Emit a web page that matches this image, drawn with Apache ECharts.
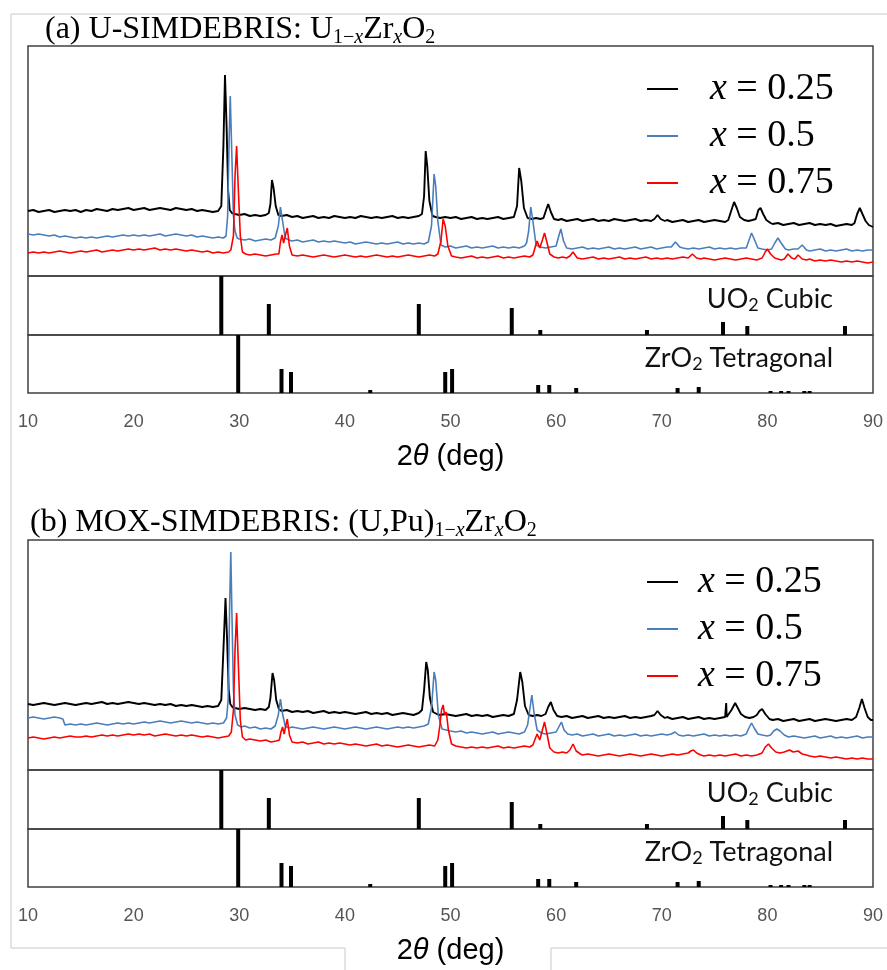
<!DOCTYPE html>
<html><head><meta charset="utf-8">
<script src="https://cdn.jsdelivr.net/npm/echarts@6/dist/echarts.min.js"></script>
<style>html,body{margin:0;padding:0;background:#fff}#c{width:887px;height:970px}</style>
</head><body><div id="c"></div>
<script>
// ---- data (2θ in degrees, intensity in arbitrary units with vertical offsets) ----
const xMin = 10, xMax = 90, xStep = 10;
const seriesNames = ['x = 0.25', 'x = 0.5', 'x = 0.75'];
const seriesColors = ['#000000', '#4a7ebb', '#ff0000'];

const aBlack = [[10,65],[10.5,66],[11,64],[11.5,65],[12,66],[12.5,64],[13,65],[13.5,66],[14,65],[14.5,66],[15,64],[15.5,66],[16,65],[16.5,67],[17,66],[17.5,65],[18,67],[18.5,66],[19,67],[19.5,68],[20,66],[20.5,67],[21,68],[21.5,66],[22,67],[22.5,68],[23,67],[23.5,66],[24,68],[24.5,67],[25,66],[25.5,67],[26,65],[26.5,66],[27,65],[27.5,64],[28,65],[28.3,70],[28.5,130],[28.65,201],[28.8,150],[28.95,85],[29.1,66],[29.3,63],[29.6,62],[30,61],[30.5,62],[31,60],[31.5,61],[32,60],[32.5,61],[32.8,63],[32.95,72],[33.1,96],[33.25,88],[33.45,70],[33.7,61],[34,60],[34.5,61],[35,59],[35.5,60],[36,58],[36.5,59],[37,60],[37.5,58],[38,59],[38.5,58],[39,60],[39.5,59],[40,58],[40.5,59],[41,58],[41.5,60],[42,59],[42.5,58],[43,59],[43.5,58],[44,59],[44.5,60],[45,58],[45.5,59],[46,58],[46.5,59],[47,60],[47.3,62],[47.5,80],[47.65,125],[47.8,110],[48.0,75],[48.3,60],[48.6,59],[49,58],[49.5,59],[50,58],[50.5,59],[51,57],[51.5,58],[52,59],[52.5,57],[53,58],[53.5,57],[54,58],[54.5,59],[55,57],[55.5,58],[56,59],[56.3,70],[56.5,108],[56.7,95],[56.95,68],[57.3,58],[57.7,57],[58.1,58],[58.5,57],[58.8,58],[59.05,66],[59.25,72],[59.5,64],[59.8,57],[60.2,56],[60.5,57],[61,55],[61.5,56],[62,57],[62.5,55],[63,56],[63.5,57],[64,55],[64.5,56],[65,55],[65.5,57],[66,56],[66.5,55],[67,56],[67.5,57],[68,55],[68.5,56],[69,55],[69.3,57],[69.6,61],[69.9,57],[70.3,55],[70.5,56],[71,54],[71.5,55],[72,56],[72.5,54],[73,55],[73.5,56],[74,54],[74.5,55],[75,56],[75.5,55],[76,54],[76.3,56],[76.6,66],[76.85,74],[77.1,68],[77.4,59],[77.8,56],[78.2,55],[78.6,56],[78.9,57],[79.15,66],[79.35,68],[79.6,62],[79.9,56],[80.3,53],[80.5,52],[81,53],[81.5,51],[82,52],[82.5,53],[83,51],[83.5,52],[84,53],[84.5,51],[85,52],[85.5,51],[86,52],[86.5,50],[87,51],[87.5,52],[88,51],[88.25,53],[88.5,62],[88.75,68],[89,62],[89.3,55],[89.6,51],[90,49]];

const aBlue = [[10,42],[10.5,41],[11,42],[11.5,41],[12,40],[12.5,41],[13,39],[13.5,40],[14,39],[14.5,38],[15,39],[15.5,38],[16,39],[16.5,38],[17,39],[17.5,40],[18,39],[18.5,40],[19,41],[19.5,40],[20,41],[20.5,40],[21,41],[21.5,40],[22,41],[22.5,42],[23,40],[23.5,41],[24,42],[24.5,41],[25,40],[25.5,41],[26,39],[26.5,40],[27,39],[27.5,38],[28,39],[28.5,38],[28.75,40],[28.9,60],[29.05,140],[29.15,180],[29.3,120],[29.45,60],[29.6,45],[29.8,38],[30,37],[30.5,36],[31,37],[31.5,35],[32,36],[32.5,37],[33,36],[33.4,38],[33.7,50],[33.9,69],[34.1,55],[34.35,38],[34.7,36],[35,35],[35.5,36],[36,34],[36.5,35],[37,36],[37.5,34],[38,35],[38.5,34],[39,35],[39.5,34],[40,33],[40.5,34],[41,32],[41.5,33],[42,34],[42.5,33],[43,32],[43.5,33],[44,32],[44.5,33],[45,34],[45.5,32],[46,33],[46.5,32],[47,33],[47.5,32],[47.9,34],[48.2,50],[48.45,102],[48.6,90],[48.8,55],[49.1,31],[49.5,29],[50,30],[50.5,28],[51,29],[51.5,30],[52,28],[52.5,29],[53,28],[53.5,29],[54,30],[54.5,28],[55,29],[55.5,28],[56,29],[56.5,28],[57,30],[57.2,33],[57.4,45],[57.6,69],[57.8,55],[58.1,31],[58.5,29],[59,28],[59.5,29],[60,30],[60.25,40],[60.45,47],[60.7,35],[61,28],[61.5,27],[62,28],[62.5,29],[63,27],[63.5,28],[64,27],[64.5,28],[65,29],[65.5,27],[66,28],[66.5,27],[67,28],[67.5,29],[68,27],[68.5,28],[69,29],[69.5,27],[70,28],[70.5,29],[70.9,29],[71.3,34],[71.7,29],[72,28],[72.5,27],[73,28],[73.5,27],[74,28],[74.5,29],[75,27],[75.5,28],[76,27],[76.5,28],[77,27],[77.5,28],[78,28],[78.3,37],[78.5,43],[78.75,37],[79.1,28],[79.5,27],[80,26],[80.4,27],[80.7,33],[81,38],[81.3,33],[81.7,27],[82,26],[82.5,27],[82.9,27],[83.3,31],[83.7,26],[84,25],[84.5,26],[85,27],[85.5,25],[86,26],[86.5,25],[87,26],[87.5,27],[88,25],[88.5,26],[89,25],[89.5,26],[90,26]];

const aRed = [[10,23],[10.5,24],[11,23],[11.5,24],[12,23],[12.5,24],[13,25],[13.5,24],[14,23],[14.5,24],[15,25],[15.5,24],[16,25],[16.5,26],[17,24],[17.5,25],[18,26],[18.5,25],[19,26],[19.5,27],[20,26],[20.5,27],[21,26],[21.5,27],[22,28],[22.5,26],[23,27],[23.5,26],[24,27],[24.5,26],[25,25],[25.5,26],[26,25],[26.5,24],[27,25],[27.5,23],[28,24],[28.5,23],[29,24],[29.2,26],[29.45,40],[29.6,100],[29.75,130],[29.9,90],[30.1,40],[30.3,24],[30.6,22],[31,21],[31.5,22],[32,21],[32.5,20],[33,21],[33.5,22],[33.75,22],[33.9,34],[34.05,41],[34.2,33],[34.4,42],[34.55,48],[34.75,30],[35,21],[35.5,20],[36,21],[36.5,20],[37,19],[37.5,20],[38,21],[38.5,20],[39,19],[39.5,20],[40,21],[40.5,20],[41,19],[41.5,20],[42,19],[42.5,20],[43,21],[43.5,20],[44,19],[44.5,20],[45,19],[45.5,20],[46,21],[46.5,20],[47,19],[47.5,20],[48,21],[48.5,20],[48.8,22],[49.1,35],[49.3,57],[49.5,50],[49.75,30],[50.1,20],[50.5,19],[51,18],[51.5,19],[52,20],[52.5,18],[53,19],[53.5,18],[54,19],[54.5,20],[55,18],[55.5,19],[56,18],[56.5,19],[57,20],[57.5,19],[57.8,21],[58.05,30],[58.2,35],[58.45,28],[58.7,36],[58.9,43],[59.1,35],[59.4,22],[59.8,19],[60.2,18],[60.6,19],[61,18],[61.3,20],[61.6,24],[62,18],[62.5,17],[63,18],[63.5,19],[64,17],[64.5,18],[65,17],[65.5,18],[66,19],[66.5,17],[67,18],[67.5,17],[68,18],[68.5,19],[69,17],[69.5,18],[70,17],[70.5,18],[71,17],[71.5,18],[72,19],[72.5,18],[72.9,22],[73.3,18],[73.7,17],[74,18],[74.5,17],[75,16],[75.5,17],[76,18],[76.5,17],[77,16],[77.5,17],[78,18],[78.5,17],[79,16],[79.5,18],[79.8,24],[80,27],[80.3,22],[80.7,18],[81,17],[81.3,16],[81.6,17],[81.95,22],[82.3,18],[82.6,17],[82.9,21],[83.3,17],[83.7,16],[84,17],[84.5,15],[85,16],[85.5,15],[86,16],[86.5,15],[87,14],[87.5,15],[88,14],[88.5,15],[89,14],[89.5,13],[90,14]];

const bBlack = [[10,66],[10.5,65],[11,66],[11.5,67],[12,66],[12.5,65],[13,66],[13.5,67],[14,66],[14.5,65],[15,66],[15.5,67],[16,66],[16.5,67],[17,68],[17.5,66],[18,67],[18.5,66],[19,67],[19.5,68],[20,67],[20.5,66],[21,67],[21.5,66],[22,65],[22.5,66],[23,65],[23.5,66],[24,64],[24.5,65],[25,64],[25.5,65],[26,64],[26.5,63],[27,64],[27.5,63],[28,64],[28.3,70],[28.5,120],[28.7,172],[28.85,130],[29.0,80],[29.15,66],[29.35,63],[29.6,62],[30,61],[30.5,62],[31,61],[31.5,60],[32,61],[32.5,60],[32.8,63],[32.95,72],[33.15,97],[33.3,90],[33.5,70],[33.75,61],[34,59],[34.5,60],[35,58],[35.5,59],[36,58],[36.5,59],[37,57],[37.5,58],[38,59],[38.5,57],[39,58],[39.5,57],[40,58],[40.5,57],[41,56],[41.5,57],[42,58],[42.5,56],[43,57],[43.5,56],[44,57],[44.5,55],[45,56],[45.5,57],[46,56],[46.5,55],[47,57],[47.3,60],[47.5,80],[47.7,108],[47.85,100],[48.05,72],[48.35,58],[48.7,56],[49,55],[49.5,56],[50,55],[50.5,54],[51,55],[51.5,56],[52,54],[52.5,55],[53,54],[53.5,55],[54,53],[54.5,54],[55,55],[55.5,54],[56,56],[56.3,70],[56.6,98],[56.8,88],[57.05,64],[57.4,55],[57.8,54],[58.2,55],[58.6,54],[59,56],[59.25,63],[59.5,68],[59.75,60],[60.1,54],[60.5,53],[61,54],[61.5,52],[62,53],[62.5,54],[63,52],[63.5,53],[64,54],[64.5,52],[65,53],[65.5,52],[66,53],[66.5,54],[67,52],[67.5,53],[68,52],[68.5,53],[69,54],[69.3,55],[69.6,59],[69.9,55],[70.3,52],[70.5,53],[71,51],[71.5,52],[72,53],[72.5,51],[73,52],[73.5,53],[74,51],[74.5,52],[75,51],[75.5,52],[76.0,53],[76.05,53],[76.1,67],[76.15,53],[76.3,54],[76.6,60],[76.95,67],[77.2,62],[77.5,56],[77.9,53],[78.3,52],[78.7,53],[79,55],[79.25,59],[79.5,61],[79.8,56],[80.2,51],[80.5,50],[81,51],[81.5,49],[82,50],[82.5,51],[83,49],[83.5,50],[84,51],[84.5,49],[85,50],[85.5,51],[86,50],[86.5,49],[87,50],[87.5,51],[88,50],[88.4,53],[88.7,62],[88.95,71],[89.2,62],[89.5,53],[89.8,50],[90,50]];

const bBlue = [[10,52],[10.5,53],[11,52],[11.5,51],[12,52],[12.5,53],[13,52],[13.3,51],[13.5,45],[14,46],[14.5,45],[15,46],[15.5,45],[16,46],[16.5,47],[17,46],[17.5,45],[18,46],[18.5,47],[19,46],[19.5,47],[20,46],[20.5,47],[21,48],[21.5,47],[22,48],[22.5,49],[23,48],[23.5,47],[24,48],[24.5,49],[25,48],[25.5,47],[26,48],[26.5,47],[27,46],[27.5,47],[28,46],[28.5,47],[28.8,52],[28.95,70],[29.1,170],[29.2,218],[29.3,160],[29.45,80],[29.6,55],[29.85,45],[30.2,43],[30.5,44],[31,42],[31.5,43],[32,41],[32.5,42],[33,41],[33.4,44],[33.7,55],[33.9,71],[34.1,56],[34.35,44],[34.7,42],[35,43],[35.5,42],[36,41],[36.5,42],[37,43],[37.5,42],[38,41],[38.5,42],[39,43],[39.5,42],[40,41],[40.5,42],[41,43],[41.5,42],[42,41],[42.5,42],[43,43],[43.5,42],[44,41],[44.5,42],[45,43],[45.5,42],[46,43],[46.5,42],[47,43],[47.5,44],[47.9,46],[48.2,62],[48.45,98],[48.6,90],[48.85,55],[49.2,41],[49.6,40],[50,39],[50.5,38],[51,39],[51.5,37],[52,38],[52.5,37],[53,36],[53.5,37],[54,38],[54.5,36],[55,37],[55.5,38],[56,37],[56.5,36],[57,38],[57.3,45],[57.5,60],[57.7,75],[57.9,58],[58.2,40],[58.6,37],[59,36],[59.5,37],[60,38],[60.3,44],[60.5,48],[60.75,40],[61.1,36],[61.5,35],[62,36],[62.5,34],[63,35],[63.5,36],[64,34],[64.5,35],[65,36],[65.5,34],[66,35],[66.5,34],[67,35],[67.5,36],[68,34],[68.5,35],[69,34],[69.5,35],[70,36],[70.5,35],[70.9,36],[71.25,38],[71.6,35],[72,34],[72.5,35],[73,34],[73.5,35],[74,36],[74.5,34],[75,35],[75.5,34],[76,35],[76.5,34],[77,35],[77.5,34],[78,36],[78.25,42],[78.5,47],[78.75,42],[79.1,36],[79.5,35],[80,34],[80.3,35],[80.6,39],[80.9,41],[81.2,39],[81.6,35],[82,33],[82.5,34],[83,33],[83.5,32],[84,33],[84.5,34],[85,32],[85.5,33],[86,34],[86.5,32],[87,33],[87.5,32],[88,33],[88.5,34],[89,32],[89.5,33],[90,33]];

const bRed = [[10,32],[10.5,33],[11,32],[11.5,31],[12,32],[12.5,33],[13,32],[13.5,33],[14,34],[14.5,33],[15,33],[15.5,34],[16,33],[16.5,34],[17,35],[17.5,34],[18,35],[18.5,34],[19,35],[19.5,36],[20,35],[20.5,36],[21,35],[21.5,36],[22,34],[22.5,35],[23,36],[23.5,35],[24,34],[24.5,35],[25,34],[25.5,35],[26,34],[26.5,33],[27,34],[27.5,33],[28,32],[28.5,33],[29,34],[29.25,38],[29.45,60],[29.6,120],[29.75,157],[29.9,110],[30.1,50],[30.3,33],[30.6,30],[31,31],[31.5,30],[32,29],[32.5,30],[33,28],[33.5,29],[33.8,30],[33.95,38],[34.1,43],[34.25,36],[34.4,44],[34.55,51],[34.75,35],[35,28],[35.5,27],[36,28],[36.5,26],[37,27],[37.5,28],[38,26],[38.5,27],[39,26],[39.5,27],[40,26],[40.5,25],[41,26],[41.5,25],[42,24],[42.5,25],[43,26],[43.5,24],[44,25],[44.5,24],[45,23],[45.5,24],[46,25],[46.5,24],[47,23],[47.5,24],[48,25],[48.5,24],[48.8,30],[49.0,45],[49.15,60],[49.3,65],[49.45,55],[49.6,58],[49.8,40],[50.1,26],[50.5,24],[51,23],[51.5,22],[52,23],[52.5,22],[53,23],[53.5,22],[54,23],[54.5,24],[55,22],[55.5,23],[56,22],[56.5,23],[57,24],[57.5,23],[57.8,25],[58.05,32],[58.2,36],[58.45,30],[58.7,40],[58.9,48],[59.1,38],[59.4,22],[59.8,18],[60.2,17],[60.6,18],[61,17],[61.3,20],[61.6,26],[61.9,19],[62.3,16],[62.5,15],[63,16],[63.5,15],[64,14],[64.5,15],[65,16],[65.5,15],[66,14],[66.5,15],[67,16],[67.5,15],[68,14],[68.5,15],[69,16],[69.5,15],[70,14],[70.5,15],[71,16],[71.5,15],[72,16],[72.5,17],[72.75,19],[73,20],[73.3,17],[73.7,15],[74,14],[74.5,15],[75,14],[75.5,15],[76,14],[76.5,15],[77,16],[77.5,14],[78,15],[78.5,14],[79,15],[79.5,17],[79.8,23],[80.1,26],[80.4,22],[80.8,18],[81.2,17],[81.6,18],[82.1,20],[82.45,18],[82.9,19],[83.3,16],[83.7,15],[84,14],[84.5,13],[85,14],[85.5,13],[86,12],[86.5,13],[87,12],[87.5,11],[88,12],[88.5,11],[89,12],[89.5,11],[90,11]];

// reference stick patterns: [2θ, relative intensity]
const uo2Cubic = [[28.3,59],[32.8,31],[47.0,31],[55.8,27],[58.5,5],[68.6,5],[75.8,13],[78.1,9],[87.35,9]];
const zro2Tetragonal = [[29.9,58],[34.0,24],[34.9,21],[42.4,3],[49.5,21],[50.15,24],[58.3,8],[59.35,8],[61.9,5],[71.5,5],[73.5,6],[80.3,2],[81.3,2],[82.0,2],[83.5,2],[84.0,2]];

// ---- layout ----
const L = 28, W = 845;
const panels = [
  {top: 46, lines: [aBlack, aBlue, aRed]},
  {top: 540, lines: [bBlack, bBlue, bRed]}
];
const H1 = 230, H2 = 59, H3 = 58;

const grids = [], xAxes = [], yAxes = [], series = [];
const serif = 'Liberation Serif', sans = 'Liberation Sans';

panels.forEach((p, pi) => {
  const tops = [p.top, p.top + H1, p.top + H1 + H2];
  const hs = [H1, H2, H3];
  const ymax = [230, 59, 58];
  for (let k = 0; k < 3; k++) {
    grids.push({left: L, width: W, top: tops[k], height: hs[k], show: true,
      borderColor: '#404040', borderWidth: 1.5, backgroundColor: 'transparent', containLabel: false});
    const idx = grids.length - 1;
    const isBottom = k === 2;
    xAxes.push({type: 'value', gridIndex: idx, min: xMin, max: xMax, interval: xStep,
      splitLine: {show: false}, axisLine: {show: false}, axisTick: {show: false},
      axisLabel: {show: isBottom, color: '#555', fontSize: 18, fontFamily: sans, margin: 20},
      name: isBottom ? '2{t|θ} (deg)' : '', nameLocation: 'middle', nameGap: 48,
      nameTextStyle: {fontFamily: sans, fontSize: 29, color: '#000', lineHeight: 32,
        rich: {t: {fontFamily: sans, fontSize: 29, fontStyle: 'italic', color: '#000', lineHeight: 32}}}
    });
    yAxes.push({type: 'value', gridIndex: idx, min: 0, max: ymax[k], show: false, splitLine: {show: false}});
  }
  const base = pi * 3;
  p.lines.forEach((d, i) => {
    series.push({name: seriesNames[i], type: 'line', xAxisIndex: base, yAxisIndex: base,
      data: d, showSymbol: false, symbol: 'none', lineStyle: {width: i === 0 ? 1.9 : 1.6, color: seriesColors[i]},
      itemStyle: {color: seriesColors[i]}, animation: false, z: 3});
  });
  series.push({type: 'bar', xAxisIndex: base + 1, yAxisIndex: base + 1, data: uo2Cubic,
    barWidth: 4, itemStyle: {color: '#000'}, animation: false});
  series.push({type: 'bar', xAxisIndex: base + 2, yAxisIndex: base + 2, data: zro2Tetragonal,
    barWidth: 4, itemStyle: {color: '#000'}, animation: false});
});

const richTitle = {
  s: {fontFamily: serif, fontSize: 20, color: '#000', verticalAlign: 'bottom', lineHeight: 20},
  si: {fontFamily: serif, fontSize: 20, fontStyle: 'italic', color: '#000', verticalAlign: 'bottom', lineHeight: 20}
};
const titleStyle = {fontFamily: serif, fontSize: 32, fontWeight: 'normal', color: '#000', lineHeight: 36, rich: richTitle};
const labStyle = {fontFamily: 'Lato', fontSize: 27, fontWeight: 'normal', color: '#111', lineHeight: 30,
  rich: {s: {fontFamily: 'Lato', fontSize: 18, color: '#111', verticalAlign: 'bottom', lineHeight: 17}}};

const titles = [
  {text: '(a) U-SIMDEBRIS: U{s|1−}{si|x}Zr{si|x}O{s|2}', left: 45, top: 12, padding: 0, textStyle: titleStyle},
  {text: '(b) MOX-SIMDEBRIS: (U,Pu){s|1−}{si|x}Zr{si|x}O{s|2}', left: 30, top: 505, padding: 0, textStyle: titleStyle}
];
panels.forEach(p => {
  titles.push({text: 'UO{s|2} Cubic', right: 54, top: p.top + H1 + 8, padding: 0, textStyle: labStyle});
  titles.push({text: 'ZrO{s|2} Tetragonal', right: 54, top: p.top + H1 + H2 + 8, padding: 0, textStyle: labStyle});
});

const legendRich = {
  sp: {width: 27, fontSize: 38, fontFamily: serif, lineHeight: 40},
  sp2: {width: 15, fontSize: 38, fontFamily: serif, lineHeight: 40},
  i: {fontStyle: 'italic', fontFamily: serif, fontSize: 38, color: '#000', lineHeight: 40}
};
function mkLegend(top, spacer) {
  return {orient: 'vertical', left: 647, top: top, padding: 0, itemGap: 7, itemWidth: 31, itemHeight: 2,
    icon: 'rect', selectedMode: false, data: seriesNames,
    formatter: n => '{' + spacer + '|}{i|x}' + n.slice(1),
    textStyle: {fontFamily: serif, fontSize: 38, color: '#000', lineHeight: 40, rich: legendRich}};
}

const option = {
  backgroundColor: '#fff',
  animation: false,
  title: titles,
  legend: [mkLegend(69, 'sp'), mkLegend(562, 'sp2')],
  grid: grids, xAxis: xAxes, yAxis: yAxes, series: series,
  graphic: [
    {type: 'polyline', shape: {points: [[887,14],[11,14],[11,948],[345,948],[345,970]]}, style: {stroke: '#c8c8c8', lineWidth: 1, fill: null}, silent: true},
    {type: 'polyline', shape: {points: [[551,970],[551,948],[887,948]]}, style: {stroke: '#c8c8c8', lineWidth: 1, fill: null}, silent: true}
  ]
};
const chart = echarts.init(document.getElementById('c'), null, {renderer: 'canvas'});
chart.setOption(option);
</script></body></html>
